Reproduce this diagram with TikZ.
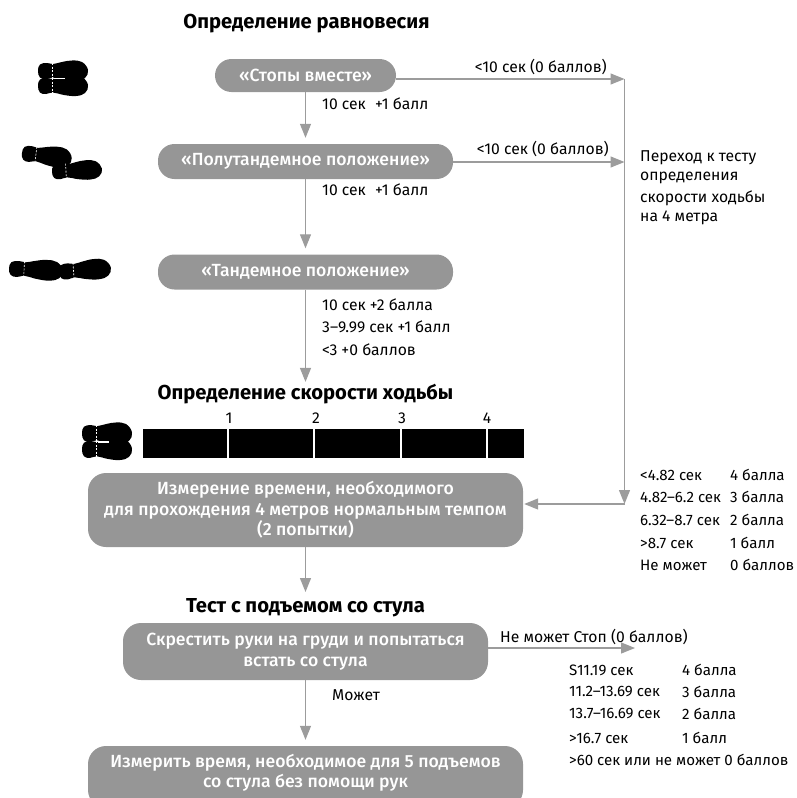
\documentclass[tikz,border=0pt]{standalone}
\usepackage{fontspec}
\setmainfont[Numbers=Proportional]{Fira Sans}
\newfontfamily\medf[Numbers=Proportional]{Fira Sans Medium}
\usetikzlibrary{arrows.meta}
\definecolor{boxg}{HTML}{969696}
\definecolor{lineg}{HTML}{9C9C9C}
\newcommand{\footprint}[5]{%
  \begin{scope}[shift={(#1,#2)},rotate=#3,yscale=#4,xscale=#5]
    \fill[black] plot[smooth cycle,tension=0.7] coordinates {(0,0) (2,-6.5) (9,-8) (15,-7) (24,-9) (34,-10.5) (44,-9) (50,-1) (47,7) (38,10) (26,9) (15,6.5) (8,8) (2,6.5)};
    \draw[white,line width=0.6pt,dash pattern=on 2pt off 1.5pt] (14,-8) -- (14,8);
  \end{scope}}
\tikzset{
  x=1pt,y=-1pt,
  flowbox/.style={fill=boxg,text=white,font=\medf\fontsize{17.6}{20.5}\selectfont,align=center,inner sep=0pt},
  pill/.style={flowbox,rounded corners=16.5pt},
  card/.style={flowbox,rounded corners=18pt},
  heading/.style={font=\bfseries\fontsize{20.2}{24}\selectfont,inner sep=0pt},
  lab/.style={font=\fontsize{15.7}{20}\selectfont,inner sep=0pt,anchor=west,text=black},
  tab/.style={lab,font=\fontsize{15.1}{20}\selectfont},
  flow/.style={draw=lineg,line width=1.2pt,-{Triangle[length=14pt,width=11pt,fill=lineg]}},
}
\begin{document}
\begin{tikzpicture}
\clip (0,0) rectangle (796,798);
\useasboundingbox (0,0) rectangle (796,798);
% headings
\node[heading] (h1) at (306.5,24) {Определение равновесия};
\node[heading] (h2) at (305.5,394) {Определение скорости ходьбы};
\node[heading] (h3) at (305.5,608) {Тест с подъемом со стула};
% boxes
\node[pill,minimum width=181pt,minimum height=33pt] (b1) at (305.5,75.5) {«Стопы вместе»};
\node[pill,minimum width=295pt,minimum height=35pt] (b2) at (305.5,161.5) {«Полутандемное положение»};
\node[pill,minimum width=295pt,minimum height=35pt] (b3) at (305.5,272) {«Тандемное положение»};
\node[card,minimum width=435pt,minimum height=74pt] (b4) at (305.5,510) {Измерение времени, необходимого\\для прохождения 4 метров нормальным темпом\\(2 попытки)};
\node[card,minimum width=365pt,minimum height=57pt] (b5) at (305.5,651.5) {Скрестить руки на груди и попытаться\\встать со стула};
\node[card,minimum width=435pt,minimum height=62pt] (b6) at (305.5,777) {};
\node[flowbox,fill=none] (b6t) at (305.5,773) {Измерить время, необходимое для 5 подъемов\\со стула без помощи рук};
% vertical flow
\draw[flow,shorten >=6pt] (b1) -- (b2);
\draw[flow,shorten >=6pt] (b2) -- (b3);
\draw[flow,shorten >=2pt] (b3) -- (h2);
\coordinate (a4) at (305.5,592);
\draw[flow] (b4) -- (a4);
\draw[flow,shorten >=6pt] (b5) -- (b6);
% right side
\coordinate (j1) at (624.5,79);
\coordinate (j2) at (624.5,162);
\coordinate (j3) at (624.5,504);
\coordinate (s5) at (488,648);
\coordinate (e5) at (635,648);
\draw[flow] (b1.east |- j1) -- (j1);
\draw[flow] (b2.east |- j2) -- (j2);
\draw[flow] (j1) -- (j3);
\draw[flow,shorten >=1pt] (j3) -- (b4.east |- j3);
\draw[flow] (s5) -- (e5);
% flow labels
\node[lab,anchor=east] (l1) at (607,67) {<10 сек (0 баллов)};
\node[lab,anchor=east] (l2) at (609,149) {<10 сек (0 баллов)};
\node[lab] (l3) at (322,104) {10 сек\,\, +1 балл};
\node[lab] (l4) at (322,190) {10 сек\,\, +1 балл};
\node[lab] (l5) at (322,305) {10 сек +2 балла};
\node[lab] (l6) at (322,327) {3–9.99 сек +1 балл};
\node[lab] (l7) at (322,350) {<3 +0 баллов};
\node[lab] (l8) at (640,158) {Переход к тесту};
\node[lab] (l9) at (640,178) {определения};
\node[lab] (l10) at (640,198) {скорости ходьбы};
\node[lab] (l11) at (640,218) {на 4 метра};
\node[lab] (l12) at (332,695) {Может};
\node[lab] (l13) at (500,637) {Не может Стоп (0 баллов)};
% score table 1
\foreach \n/\y/\a/\b in {1/475/<4.82 сек/4 балла,2/497/4.82–6.2 сек/3 балла,3/520/6.32–8.7 сек/2 балла,4/543/>8.7 сек/1 балл,5/565/Не может/0 баллов}{
  \node[tab] (ta\n) at (640,\y) {\a};
  \node[tab] (tb\n) at (730,\y) {\b};
}
% score table 2
\foreach \n/\y/\a/\b in {1/670/S11.19 сек/4 балла,2/692/11.2–13.69 сек/3 балла,3/714/13.7–16.69 сек/2 балла,4/738/>16.7 сек/1 балл}{
  \node[tab] (tc\n) at (569,\y) {\a};
  \node[tab] (td\n) at (682,\y) {\b};
}
\node[tab] (tc5) at (569,760) {>60 сек или не может 0 баллов};
% track
\fill[black] (143,429) rectangle (524,458);
\foreach \x in {228,314,401,487}{\fill[white] (\x-1,429) rectangle (\x+1,458);}
\foreach \x/\t in {229/1,316/2,402/3,487/4}{\node[font=\fontsize{15.7}{17}\selectfont,inner sep=0pt] (n\t) at (\x,418) {\t};}
% footprints
\footprint{38}{71}{0}{1}{1}
\footprint{38}{86}{0}{1}{1}
\fill[white] (54,78) rectangle (65,79.4);
\footprint{22}{153}{-7}{1}{1}
\footprint{52}{172}{3}{0.95}{1}
\footprint{9}{268.5}{-3}{1}{1.08}
\footprint{59}{272}{4}{1}{1.04}
\footprint{82}{433.5}{0}{1.05}{1}
\footprint{82}{449.5}{0}{1.05}{1}
\fill[white] (98,441.3) rectangle (109,442.7);
\end{tikzpicture}
\end{document}
